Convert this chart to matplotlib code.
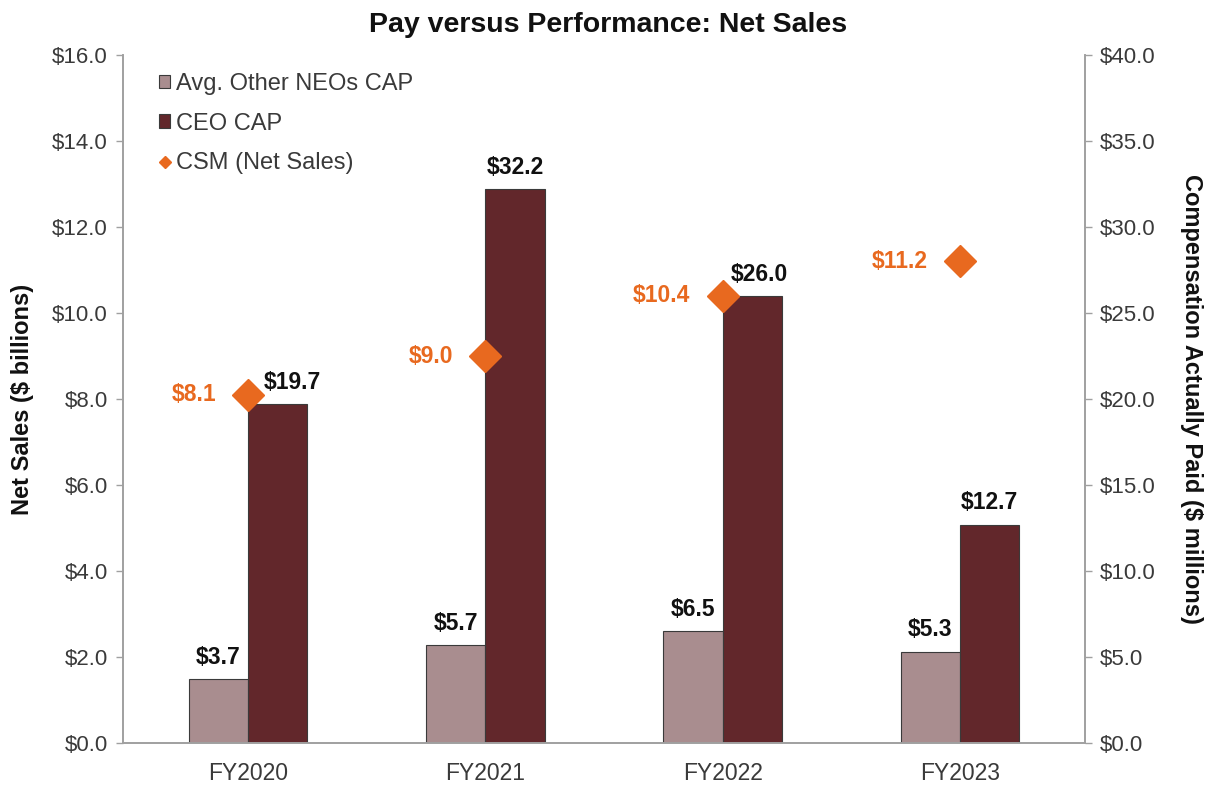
import numpy as np
import matplotlib.pyplot as plt
from matplotlib.lines import Line2D
from matplotlib.patches import Patch

plt.rcParams['font.family'] = ['Liberation Sans', 'DejaVu Sans']

years = ['FY2020', 'FY2021', 'FY2022', 'FY2023']
neo_cap = [3.7, 5.7, 6.5, 5.3]
ceo_cap = [19.7, 32.2, 26.0, 12.7]
net_sales = [8.1, 9.0, 10.4, 11.2]

c_neo = '#a98d8f'
c_ceo = '#62272b'
c_csm = '#e8691f'
grey = '#a0a0a0'
txt = '#3a3a3a'

fig = plt.figure(figsize=(12.17, 7.87), dpi=100)
ax = fig.add_axes([0.101, 0.056, 0.7905, 0.874])
ax2 = ax.twinx()

x = np.arange(len(years))
w = 0.25

# bars on the right axis ($ millions)
ax2.bar(x - w / 2, neo_cap, w, color=c_neo, edgecolor='#3a3a3a', linewidth=0.8, zorder=2)
ax2.bar(x + w / 2, ceo_cap, w, color=c_ceo, edgecolor='#3a3a3a', linewidth=0.8, zorder=2)
for xi, v in zip(x, neo_cap):
    ax2.text(xi - w / 2, v + 0.6, f'${v:.1f}', ha='center', va='bottom',
             fontsize=16.5, fontweight='bold', color='#111111')
# CEO labels pushed a little right where a diamond sits next to them
nudge = [0.06, 0.0, 0.03, 0.0]
for xi, v, dx in zip(x, ceo_cap, nudge):
    ax2.text(xi + w / 2 + dx, v + 0.6, f'${v:.1f}', ha='center', va='bottom',
             fontsize=16.5, fontweight='bold', color='#111111')

# diamonds on the left axis ($ billions), drawn on top
ax2.set_zorder(1)
ax.set_zorder(2)
ax.patch.set_visible(False)
ax.plot(x, net_sales, linestyle='none', marker='D', markersize=16,
        color=c_csm, markeredgecolor=c_csm, zorder=5)
for xi, v in zip(x, net_sales):
    ax.text(xi - 0.135, v, f'${v:.1f}', ha='right', va='center',
            fontsize=16.5, fontweight='bold', color=c_csm)

ax.set_xlim(-0.527, 3.527)
ax.set_ylim(0, 16)
ax2.set_ylim(0, 40)
ax.set_yticks(np.arange(0, 16.1, 2))
ax2.set_yticks(np.arange(0, 40.1, 5))
ax.set_yticklabels([f'${t:.1f}' for t in np.arange(0, 16.1, 2)])
ax2.set_yticklabels([f'${t:.1f}' for t in np.arange(0, 40.1, 5)])
ax.set_xticks(x)
ax.set_xticklabels(years)

for a in (ax, ax2):
    for s in a.spines.values():
        s.set_color(grey)
        s.set_linewidth(1.2)
    a.spines['top'].set_visible(False)
    a.tick_params(axis='both', labelcolor=txt, labelsize=16, length=5,
                  width=1, direction='out', color=grey, pad=6)
ax.tick_params(axis='x', length=0, pad=14, labelsize=16.5)

ax.set_ylabel('Net Sales ($ billions)', fontsize=17, fontweight='bold',
              labelpad=13, color='#111111')
ax2.set_ylabel('Compensation Actually Paid ($ millions)', fontsize=17,
               fontweight='bold', rotation=270, labelpad=34, color='#111111')

fig.suptitle('Pay versus Performance: Net Sales', fontsize=20.5, fontweight='bold',
             y=0.985, color='#111111')

handles = [Patch(facecolor=c_neo, edgecolor='#3a3a3a', linewidth=0.8),
           Patch(facecolor=c_ceo, edgecolor='#3a3a3a', linewidth=0.8),
           Line2D([], [], linestyle='none', marker='D', markersize=6, color=c_csm)]
ax.legend(handles, ['Avg. Other NEOs CAP', 'CEO CAP', 'CSM (Net Sales)'],
          loc='upper left', bbox_to_anchor=(0.015, 1.005), frameon=False,
          fontsize=17, handlelength=0.5, handleheight=0.5, handletextpad=0.25,
          labelspacing=0.75, labelcolor=txt)

fig.savefig('out.png', dpi=100)
